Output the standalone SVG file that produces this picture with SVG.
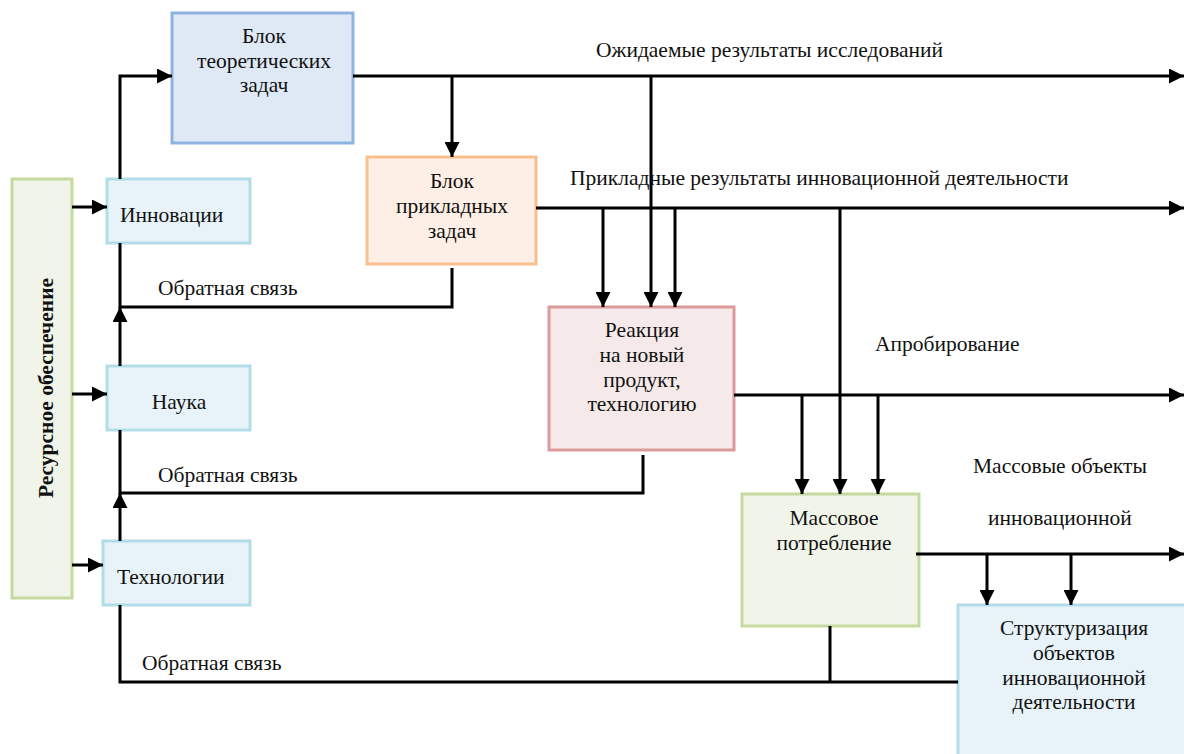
<svg xmlns="http://www.w3.org/2000/svg" width="1184" height="754" viewBox="0 0 1184 754">
  <style>
    .t { font-family: "Liberation Serif", "Times New Roman", serif; font-size: 21.5px; fill: #111; }
    .c { text-anchor: middle; }
    .ln { fill: none; stroke: #000; stroke-width: 3; }
    .green { fill: #f1f5e9; stroke: #c5d9a0; stroke-width: 3; }
    .blue { fill: #dfe9f6; stroke: #8eb3e1; stroke-width: 3; }
    .cyan { fill: #e7f3f8; stroke: #b2dde8; stroke-width: 3; }
    .orange { fill: #fdefe5; stroke: #f9c08f; stroke-width: 3; }
    .pink { fill: #f5e9e9; stroke: #dc9a9a; stroke-width: 3; }
  </style>
  <defs>
    <marker id="arr" markerUnits="userSpaceOnUse" markerWidth="15" markerHeight="15" refX="15" refY="7.5" orient="auto">
      <path d="M0,0 L15,7.5 L0,15 z" fill="#000"/>
    </marker>
  </defs>
  <rect width="1184" height="754" fill="#fff"/>

  <!-- nodes -->
  <g id="resource">
    <rect class="green" x="12" y="179" width="60" height="419"/>
    <text class="t c" font-weight="bold" transform="translate(53,388) rotate(-90)">Ресурсное обеспечение</text>
  </g>
  <g id="theory">
    <rect class="blue" x="172" y="13" width="181" height="130"/>
    <text class="t c" x="264" y="43">Блок</text>
    <text class="t c" x="264" y="68">теоретических</text>
    <text class="t c" x="264" y="92">задач</text>
  </g>
  <g id="innovation">
    <rect class="cyan" x="107" y="179" width="143" height="64"/>
    <text class="t" x="120" y="222">Инновации</text>
  </g>
  <g id="science">
    <rect class="cyan" x="107" y="366" width="143" height="64"/>
    <text class="t c" x="179" y="409">Наука</text>
  </g>
  <g id="technology">
    <rect class="cyan" x="103" y="541" width="147" height="64"/>
    <text class="t" x="117" y="584">Технологии</text>
  </g>
  <g id="applied">
    <rect class="orange" x="367" y="157" width="169" height="107"/>
    <text class="t c" x="452" y="188">Блок</text>
    <text class="t c" x="452" y="213">прикладных</text>
    <text class="t c" x="452" y="238">задач</text>
  </g>
  <g id="reaction">
    <rect class="pink" x="549" y="307" width="185" height="143"/>
    <text class="t c" x="642" y="337">Реакция</text>
    <text class="t c" x="642" y="362">на новый</text>
    <text class="t c" x="642" y="387">продукт,</text>
    <text class="t c" x="642" y="411">технологию</text>
  </g>
  <g id="mass">
    <rect class="green" x="742" y="494" width="177" height="132"/>
    <text class="t c" x="834" y="525">Массовое</text>
    <text class="t c" x="834" y="550">потребление</text>
  </g>
  <g id="structuring">
    <rect class="cyan" x="958" y="605" width="240" height="160"/>
    <text class="t c" x="1074" y="635">Структуризация</text>
    <text class="t c" x="1074" y="660">объектов</text>
    <text class="t c" x="1074" y="685">инновационной</text>
    <text class="t c" x="1074" y="709">деятельности</text>
  </g>

  <!-- connectors -->
  <g id="connectors">
    <path class="ln" d="M72,207 H107" marker-end="url(#arr)"/>
    <path class="ln" d="M72,394 H107" marker-end="url(#arr)"/>
    <path class="ln" d="M72,565 H103" marker-end="url(#arr)"/>

    <path class="ln" d="M120,179 V76 H172" marker-end="url(#arr)"/>
    <path class="ln" d="M353,76 H1184" marker-end="url(#arr)"/>
    <path class="ln" d="M452,76 V157" marker-end="url(#arr)"/>
    <path class="ln" d="M651,76 V307" marker-end="url(#arr)"/>

    <path class="ln" d="M536,208 H1184" marker-end="url(#arr)"/>
    <path class="ln" d="M603,208 V307" marker-end="url(#arr)"/>
    <path class="ln" d="M675,208 V307" marker-end="url(#arr)"/>
    <path class="ln" d="M840,208 V494" marker-end="url(#arr)"/>

    <path class="ln" d="M734,395 H1184" marker-end="url(#arr)"/>
    <path class="ln" d="M802,395 V494" marker-end="url(#arr)"/>
    <path class="ln" d="M878,395 V494" marker-end="url(#arr)"/>

    <path class="ln" d="M916,554 H1184" marker-end="url(#arr)"/>
    <path class="ln" d="M987,554 V605" marker-end="url(#arr)"/>
    <path class="ln" d="M1071,554 V605" marker-end="url(#arr)"/>

    <!-- feedback loops -->
    <path class="ln" d="M452,268 V307 H120 V243"/>
    <path class="ln" d="M120,366 V307" marker-end="url(#arr)"/>
    <path class="ln" d="M643,455 V493 H120 V430"/>
    <path class="ln" d="M120,541 V493" marker-end="url(#arr)"/>
    <path class="ln" d="M120,605 V682 H958"/>
    <path class="ln" d="M830,626 V682"/>
  </g>

  <!-- flow labels -->
  <g id="labels">
    <text class="t" x="596" y="57">Ожидаемые результаты исследований</text>
    <text class="t" x="570" y="185">Прикладные результаты инновационной деятельности</text>
    <text class="t" x="875" y="351">Апробирование</text>
    <text class="t" x="973" y="473">Массовые объекты</text>
    <text class="t" x="988" y="525">инновационной</text>
    <text class="t" x="158" y="295">Обратная связь</text>
    <text class="t" x="158" y="482">Обратная связь</text>
    <text class="t" x="142" y="670">Обратная связь</text>
  </g>
</svg>
